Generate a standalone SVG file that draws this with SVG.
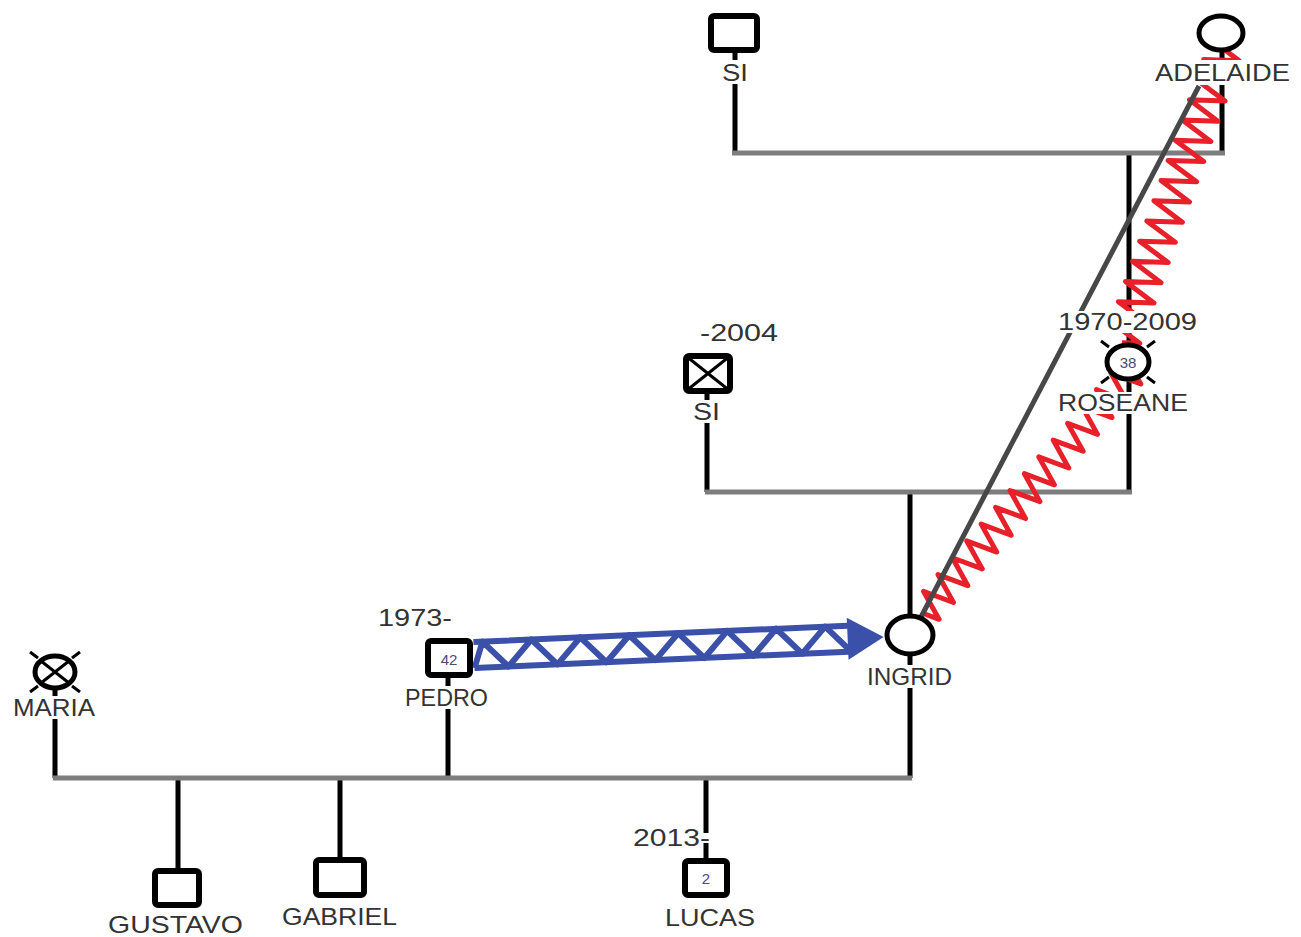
<svg xmlns="http://www.w3.org/2000/svg" width="1301" height="937" viewBox="0 0 1301 937">
<style>
.v{stroke:#000;stroke-width:5;fill:none}
.h{stroke:#7d7d7d;stroke-width:5;fill:none}
.sq{fill:#fff;stroke:#000;stroke-width:6}
.ci{fill:#fff;stroke:#000;stroke-width:5}
.tk{stroke:#000;stroke-width:3;fill:none}
.zz{stroke:#e8202a;stroke-width:5;fill:none;stroke-linejoin:round}
.bl{stroke:#3b50a8;stroke-width:6;fill:none;stroke-linejoin:round}
.bg{fill:#fff}
.lb{font-family:"Liberation Sans",Arial,sans-serif;font-size:24px;fill:#333}
.nm{font-family:"Liberation Sans",Arial,sans-serif;font-size:15px;fill:#4a4a78;text-anchor:middle}
</style>
<rect width="1301" height="937" fill="#fff"/>
<g id="connectors">
  <path class="v" d="M735,50V153 M1222,50V153 M1129,153V345 M1129,379V492 M707,391V492 M910,492V616 M910,654V778 M448,675V778 M55,688V778 M178,778V871 M340,778V860 M706,778V861"/>
  <path class="h" d="M732,153H1225 M705,492H1132 M53,778H912"/>
  <path class="zz" transform="translate(1225,50) rotate(109.4)" d="M0,0 l5.35,-17 l10.7,34 l10.7,-34 l10.7,34 l10.7,-34 l10.7,34 l10.7,-34 l10.7,34 l10.7,-34 l10.7,34 l10.7,-34 l10.7,34 l10.7,-34 l10.7,34 l10.7,-34 l10.7,34 l10.7,-34 l10.7,34 l10.7,-34 l10.7,34 l10.7,-34 l10.7,34 l10.7,-34 l10.7,34 l10.7,-34 l10.7,34 l10.7,-34 l10.7,34 l10.7,-34 l5.35,17"/>
  <path class="zz" transform="translate(1133,370) rotate(130.6)" d="M0,0 l5.53,-15 l11.07,30 l11.07,-30 l11.07,30 l11.07,-30 l11.07,30 l11.07,-30 l11.07,30 l11.07,-30 l11.07,30 l11.07,-30 l11.07,30 l11.07,-30 l11.07,30 l11.07,-30 l11.07,30 l11.07,-30 l11.07,30 l11.07,-30 l11.07,30 l11.07,-30 l11.07,30 l11.07,-30 l11.07,30 l11.07,-30 l11.07,30 l11.07,-30 l11.07,30 l11.07,-30 l5.53,15"/>
  <path d="M1199,86L921,617" stroke="#474747" stroke-width="5" fill="none"/>
  <g transform="translate(474,655) rotate(-2.5)">
    <path class="bl" d="M0,-13H380 M0,13H380"/>
    <polyline class="bl" points="0,13 9,-13 34,13 58,-13 83,13 107,-13 132,13 156,-13 181,13 205,-13 230,13 254,-13 279,13 303,-13 328,13 352,-13 377,13"/>
    <polygon points="374,-21 410,0 374,21" fill="#3b50a8"/>
  </g>
</g>
<g id="si-top">
  <rect class="sq" x="711" y="16" width="46" height="34" rx="3"/>
  <rect class="bg" x="720" y="60" width="30" height="24"/>
  <text class="lb" x="722" y="81" textLength="26" lengthAdjust="spacingAndGlyphs">SI</text>
</g>
<g id="adelaide">
  <ellipse class="ci" cx="1221" cy="33" rx="22" ry="17"/>
  <rect class="bg" x="1153" y="60" width="139" height="25"/>
  <text class="lb" x="1155" y="81" textLength="135" lengthAdjust="spacingAndGlyphs">ADELAIDE</text>
</g>
<g id="roseane">
  <rect class="bg" x="1055" y="311" width="145" height="22"/>
  <text class="lb" x="1058" y="330" textLength="139" lengthAdjust="spacingAndGlyphs">1970-2009</text>
  <ellipse class="ci" cx="1128" cy="362" rx="21" ry="17"/>
  <path class="tk" d="M1109,347l-8,-6 M1147,347l8,-6 M1109,377l-8,6 M1147,377l8,6"/>
  <text class="nm" x="1128" y="368">38</text>
  <rect class="bg" x="1056" y="392" width="134" height="22"/>
  <text class="lb" x="1058" y="411" textLength="130" lengthAdjust="spacingAndGlyphs">ROSEANE</text>
</g>
<g id="si-mid">
  <text class="lb" x="700" y="341" textLength="78" lengthAdjust="spacingAndGlyphs">-2004</text>
  <rect class="sq" x="686" y="356" width="44" height="35" rx="3"/>
  <path d="M686,356L730,391M730,356L686,391" stroke="#000" stroke-width="3"/>
  <rect class="bg" x="691" y="400" width="32" height="23"/>
  <text class="lb" x="693" y="420" textLength="27" lengthAdjust="spacingAndGlyphs">SI</text>
</g>
<g id="ingrid">
  <ellipse class="ci" cx="910" cy="635" rx="23" ry="19"/>
  <rect class="bg" x="865" y="665" width="89" height="23"/>
  <text class="lb" x="867" y="685" textLength="85" lengthAdjust="spacingAndGlyphs">INGRID</text>
</g>
<g id="pedro">
  <text class="lb" x="378" y="626" textLength="74" lengthAdjust="spacingAndGlyphs">1973-</text>
  <rect class="sq" x="428" y="641" width="42" height="34" rx="3"/>
  <text class="nm" x="449" y="665">42</text>
  <rect class="bg" x="403" y="686" width="87" height="23"/>
  <text class="lb" x="405" y="706" textLength="83" lengthAdjust="spacingAndGlyphs">PEDRO</text>
</g>
<g id="maria">
  <ellipse class="ci" cx="55" cy="672" rx="20" ry="16"/>
  <path d="M41,661L69,683M69,661L41,683" stroke="#000" stroke-width="3"/>
  <path class="tk" d="M38,658l-8,-6 M72,658l8,-6 M38,686l-8,6 M72,686l8,6"/>
  <rect class="bg" x="11" y="696" width="86" height="23"/>
  <text class="lb" x="13" y="716" textLength="82" lengthAdjust="spacingAndGlyphs">MARIA</text>
</g>
<g id="gustavo">
  <rect class="sq" x="155" y="871" width="44" height="34" rx="3"/>
  <text class="lb" x="108" y="933" textLength="135" lengthAdjust="spacingAndGlyphs">GUSTAVO</text>
</g>
<g id="gabriel">
  <rect class="sq" x="316" y="860" width="48" height="35" rx="3"/>
  <text class="lb" x="282" y="925" textLength="115" lengthAdjust="spacingAndGlyphs">GABRIEL</text>
</g>
<g id="lucas">
  <rect class="bg" x="699" y="833" width="14" height="10"/>
  <text class="lb" x="633" y="846" textLength="77" lengthAdjust="spacingAndGlyphs">2013-</text>
  <rect class="sq" x="685" y="861" width="42" height="34" rx="3"/>
  <text class="nm" x="706" y="884">2</text>
  <text class="lb" x="665" y="926" textLength="90" lengthAdjust="spacingAndGlyphs">LUCAS</text>
</g>
</svg>
